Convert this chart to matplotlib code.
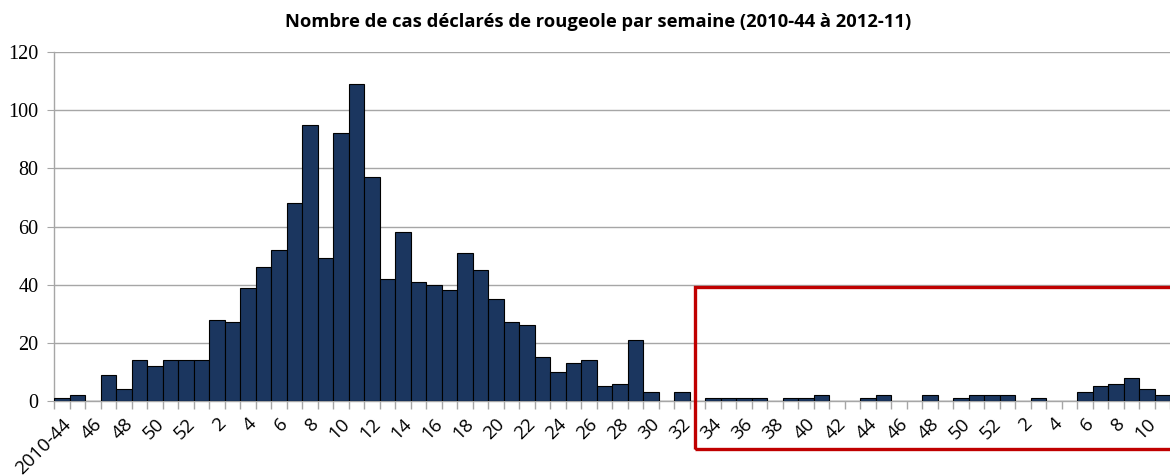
import matplotlib.pyplot as plt
import numpy as np
from matplotlib.patches import Rectangle

# weekly measles cases, 2010-44 .. 2012-11
weeks_2010 = list(range(44, 53))
weeks_2011 = list(range(1, 53))
weeks_2012 = list(range(1, 12))

cases_2010 = [1, 2, 0, 9, 4, 14, 12, 14, 14]
cases_2011 = [14, 28, 27, 39, 46, 52, 68, 95, 49, 92,
              109, 77, 42, 58, 41, 40, 38, 51, 45, 35,
              27, 26, 15, 10, 13, 14, 5, 6, 21, 3,
              0, 3, 0, 1, 1, 1, 1, 0, 1, 1,
              2, 0, 0, 1, 2, 0, 0, 2, 0, 1,
              2, 2]
cases_2012 = [2, 0, 1, 0, 0, 3, 5, 6, 8, 4, 2]

week_labels = ['2010-44'] + [str(w) for w in weeks_2010[1:]] + \
              [str(w) for w in weeks_2011] + [str(w) for w in weeks_2012]
cases = np.array(cases_2010 + cases_2011 + cases_2012)
x = np.arange(len(cases))

bar_color = '#1b365f'
grid_color = '#a6a6a6'
sans = ['Liberation Sans Narrow', 'Open Sans', 'DejaVu Sans']

fig = plt.figure(figsize=(11.7, 4.76), dpi=100)
ax = fig.add_axes([54 / 1170, 1 - 401 / 476, 1 - 54 / 1170, (401 - 52) / 476])

ax.bar(x, cases, width=1.0, color=bar_color, edgecolor='black', linewidth=0.8, zorder=3)

ax.set_xlim(-0.5, len(cases) - 0.5)
ax.set_ylim(0, 120)
ax.set_yticks(range(0, 121, 20))
ax.yaxis.grid(True, color=grid_color, linewidth=1, zorder=0)

for s in ['top', 'right']:
    ax.spines[s].set_visible(False)
for s in ['left', 'bottom']:
    ax.spines[s].set_color(grid_color)
    ax.spines[s].set_linewidth(1)

ax.tick_params(axis='y', length=5, color=grid_color, pad=6)
for lab in ax.get_yticklabels():
    lab.set_fontfamily(['Liberation Serif', 'DejaVu Serif'])
    lab.set_fontsize(14.5)

# labels every second week at category centres, tick marks between categories
ax.set_xticks(x[::2])
ax.set_xticklabels(week_labels[::2], rotation=45, ha='right', rotation_mode='anchor',
                   fontsize=13.5, family=sans)
ax.tick_params(axis='x', which='major', length=0, pad=10)
ax.set_xticks(np.arange(-0.5, len(cases), 1), minor=True)
ax.tick_params(axis='x', which='minor', length=6, color=grid_color, width=1)

fig.text(598 / 1170, 1 - 22 / 476, 'Nombre de cas déclarés de rougeole par semaine (2010-44 à 2012-11)',
         ha='center', va='center', fontsize=13.2, fontweight='bold', family=sans)

# red box highlighting the tail of the epidemic
fig.add_artist(Rectangle((695 / 1170, 1 - 449 / 476), 0.5, (449 - 287) / 476,
                         transform=fig.transFigure, fill=False,
                         edgecolor='#c00000', linewidth=2.4, clip_on=False))

fig.savefig('out.png', dpi=100)
